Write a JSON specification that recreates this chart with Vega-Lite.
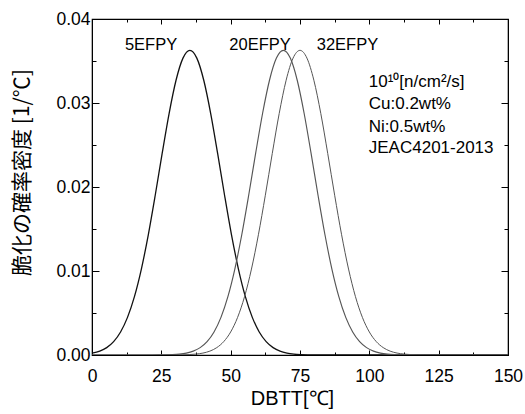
{
  "$schema": "https://vega.github.io/schema/vega-lite/v6.json",
  "width": 416,
  "height": 336,
  "autosize": {"type": "none"},
  "padding": {"left": 92, "top": 19, "right": 17, "bottom": 59},
  "background": "white",
  "config": {
    "view": {"stroke": "black", "strokeWidth": 1.2},
    "axis": {"grid": false, "domainColor": "black", "tickColor": "black", "labelColor": "black", "titleColor": "black", "labelFont": "Liberation Sans", "labelFontSize": 17.5, "titleFontWeight": "normal"}
  },
  "datasets": {
    "curves": [
      {"s":"5EFPY","x":0,"y":0.000211},{"s":"5EFPY","x":2.8,"y":0.000461},{"s":"5EFPY","x":5.3,"y":0.000880},{"s":"5EFPY","x":7.8,"y":0.001594},{"s":"5EFPY","x":10.3,"y":0.002741},{"s":"5EFPY","x":12.8,"y":0.004478},{"s":"5EFPY","x":15.3,"y":0.006945},{"s":"5EFPY","x":17.8,"y":0.010231},{"s":"5EFPY","x":20.3,"y":0.014314},{"s":"5EFPY","x":22.8,"y":0.019018},{"s":"5EFPY","x":25.3,"y":0.023993},{"s":"5EFPY","x":27.8,"y":0.028748},{"s":"5EFPY","x":30.3,"y":0.032710},{"s":"5EFPY","x":32.8,"y":0.035345},{"s":"5EFPY","x":35.3,"y":0.03627},{"s":"5EFPY","x":37.8,"y":0.035345},{"s":"5EFPY","x":40.3,"y":0.032710},{"s":"5EFPY","x":42.8,"y":0.028748},{"s":"5EFPY","x":45.3,"y":0.023993},{"s":"5EFPY","x":47.8,"y":0.019018},{"s":"5EFPY","x":50.3,"y":0.014314},{"s":"5EFPY","x":52.8,"y":0.010231},{"s":"5EFPY","x":55.3,"y":0.006945},{"s":"5EFPY","x":57.8,"y":0.004478},{"s":"5EFPY","x":60.3,"y":0.002741},{"s":"5EFPY","x":62.8,"y":0.001594},{"s":"5EFPY","x":65.3,"y":0.000880},{"s":"5EFPY","x":67.8,"y":0.000461},{"s":"5EFPY","x":70.3,"y":0.000230},{"s":"5EFPY","x":72.8,"y":0.000109},{"s":"5EFPY","x":75.3,"y":0.0000488},{"s":"5EFPY","x":77.8,"y":0.0000208},{"s":"5EFPY","x":80.3,"y":0.0000084},{"s":"5EFPY","x":82.8,"y":0.0000032},{"s":"5EFPY","x":85.3,"y":0.0000012},{"s":"5EFPY","x":150,"y":0},
      {"s":"20EFPY","x":0,"y":0},{"s":"20EFPY","x":19,"y":0.0000012},{"s":"20EFPY","x":21.5,"y":0.0000032},{"s":"20EFPY","x":24,"y":0.0000084},{"s":"20EFPY","x":26.5,"y":0.0000208},{"s":"20EFPY","x":29,"y":0.0000488},{"s":"20EFPY","x":31.5,"y":0.000109},{"s":"20EFPY","x":34,"y":0.000230},{"s":"20EFPY","x":36.5,"y":0.000461},{"s":"20EFPY","x":39,"y":0.000880},{"s":"20EFPY","x":41.5,"y":0.001594},{"s":"20EFPY","x":44,"y":0.002741},{"s":"20EFPY","x":46.5,"y":0.004478},{"s":"20EFPY","x":49,"y":0.006945},{"s":"20EFPY","x":51.5,"y":0.010231},{"s":"20EFPY","x":54,"y":0.014314},{"s":"20EFPY","x":56.5,"y":0.019018},{"s":"20EFPY","x":59,"y":0.023993},{"s":"20EFPY","x":61.5,"y":0.028748},{"s":"20EFPY","x":64,"y":0.032710},{"s":"20EFPY","x":66.5,"y":0.035345},{"s":"20EFPY","x":69,"y":0.03627},{"s":"20EFPY","x":71.5,"y":0.035345},{"s":"20EFPY","x":74,"y":0.032710},{"s":"20EFPY","x":76.5,"y":0.028748},{"s":"20EFPY","x":79,"y":0.023993},{"s":"20EFPY","x":81.5,"y":0.019018},{"s":"20EFPY","x":84,"y":0.014314},{"s":"20EFPY","x":86.5,"y":0.010231},{"s":"20EFPY","x":89,"y":0.006945},{"s":"20EFPY","x":91.5,"y":0.004478},{"s":"20EFPY","x":94,"y":0.002741},{"s":"20EFPY","x":96.5,"y":0.001594},{"s":"20EFPY","x":99,"y":0.000880},{"s":"20EFPY","x":101.5,"y":0.000461},{"s":"20EFPY","x":104,"y":0.000230},{"s":"20EFPY","x":106.5,"y":0.000109},{"s":"20EFPY","x":109,"y":0.0000488},{"s":"20EFPY","x":111.5,"y":0.0000208},{"s":"20EFPY","x":114,"y":0.0000084},{"s":"20EFPY","x":116.5,"y":0.0000032},{"s":"20EFPY","x":119,"y":0.0000012},{"s":"20EFPY","x":150,"y":0},
      {"s":"32EFPY","x":0,"y":0},{"s":"32EFPY","x":25,"y":0.0000012},{"s":"32EFPY","x":27.5,"y":0.0000032},{"s":"32EFPY","x":30,"y":0.0000084},{"s":"32EFPY","x":32.5,"y":0.0000208},{"s":"32EFPY","x":35,"y":0.0000488},{"s":"32EFPY","x":37.5,"y":0.000109},{"s":"32EFPY","x":40,"y":0.000230},{"s":"32EFPY","x":42.5,"y":0.000461},{"s":"32EFPY","x":45,"y":0.000880},{"s":"32EFPY","x":47.5,"y":0.001594},{"s":"32EFPY","x":50,"y":0.002741},{"s":"32EFPY","x":52.5,"y":0.004478},{"s":"32EFPY","x":55,"y":0.006945},{"s":"32EFPY","x":57.5,"y":0.010231},{"s":"32EFPY","x":60,"y":0.014314},{"s":"32EFPY","x":62.5,"y":0.019018},{"s":"32EFPY","x":65,"y":0.023993},{"s":"32EFPY","x":67.5,"y":0.028748},{"s":"32EFPY","x":70,"y":0.032710},{"s":"32EFPY","x":72.5,"y":0.035345},{"s":"32EFPY","x":75,"y":0.03627},{"s":"32EFPY","x":77.5,"y":0.035345},{"s":"32EFPY","x":80,"y":0.032710},{"s":"32EFPY","x":82.5,"y":0.028748},{"s":"32EFPY","x":85,"y":0.023993},{"s":"32EFPY","x":87.5,"y":0.019018},{"s":"32EFPY","x":90,"y":0.014314},{"s":"32EFPY","x":92.5,"y":0.010231},{"s":"32EFPY","x":95,"y":0.006945},{"s":"32EFPY","x":97.5,"y":0.004478},{"s":"32EFPY","x":100,"y":0.002741},{"s":"32EFPY","x":102.5,"y":0.001594},{"s":"32EFPY","x":105,"y":0.000880},{"s":"32EFPY","x":107.5,"y":0.000461},{"s":"32EFPY","x":110,"y":0.000230},{"s":"32EFPY","x":112.5,"y":0.000109},{"s":"32EFPY","x":115,"y":0.0000488},{"s":"32EFPY","x":117.5,"y":0.0000208},{"s":"32EFPY","x":120,"y":0.0000084},{"s":"32EFPY","x":122.5,"y":0.0000032},{"s":"32EFPY","x":125,"y":0.0000012},{"s":"32EFPY","x":150,"y":0}
    ],
    "labels": [
      {"t":"5EFPY","x":21.3,"y":0.0369},
      {"t":"20EFPY","x":60.6,"y":0.0369},
      {"t":"32EFPY","x":92.1,"y":0.0369}
    ],
    "notes": [
      {"t":"10¹⁰[n/cm²/s]","x":99.8,"y":0.0325},
      {"t":"Cu:0.2wt%","x":99.8,"y":0.0299},
      {"t":"Ni:0.5wt%","x":99.8,"y":0.0272},
      {"t":"JEAC4201-2013","x":99.8,"y":0.0247}
    ]
  },
  "layer": [
    {
      "data": {"name": "curves"},
      "mark": {"type": "line", "interpolate": "monotone", "clip": true},
      "encoding": {
        "x": {"field": "x", "type": "quantitative", "scale": {"domain": [0, 150], "nice": false},
          "axis": {"orient": "bottom", "title": "DBTT[℃]", "titleFont": "Liberation Sans", "titleFontSize": 20,
            "titleX": 200, "titleY": 43, "titleAlign": "center", "titleBaseline": "middle",
            "values": [0,12.5,25,37.5,50,62.5,75,87.5,100,112.5,125,137.5,150],
            "labelExpr": "datum.value % 25 === 0 ? datum.label : ''",
            "tickSize": {"condition": {"test": "datum.value % 25 === 0", "value": -5}, "value": -3},
            "labelPadding": 17, "labelFlush": false}},
        "y": {"field": "y", "type": "quantitative", "scale": {"domain": [0, 0.04], "nice": false},
          "axis": {"orient": "left", "title": "脆化の確率密度 [1/℃]", "titleFont": "Noto Sans CJK JP", "titleFontSize": 21,
            "titleX": -70, "titleY": 153, "titleAngle": -90, "titleAlign": "center", "titleBaseline": "middle",
            "values": [0,0.005,0.01,0.015,0.02,0.025,0.03,0.035,0.04],
            "format": ".2f",
            "labelExpr": "round(datum.value*1000) % 10 === 0 ? datum.label : ''",
            "tickSize": {"condition": {"test": "round(datum.value*1000) % 10 === 0", "value": -7}, "value": -4},
            "labelPadding": 9}},
        "color": {"field": "s", "type": "nominal", "legend": null,
          "scale": {"domain": ["5EFPY","20EFPY","32EFPY"], "range": ["#111111","#555555","#555555"]}},
        "strokeWidth": {"field": "s", "type": "nominal", "legend": null,
          "scale": {"domain": ["5EFPY","20EFPY","32EFPY"], "range": [1.3, 1.0, 1.0]}},
        "detail": {"field": "s"}
      }
    },
    {
      "data": {"name": "curves"},
      "mark": {"type": "line", "opacity": 0},
      "encoding": {
        "x": {"field": "x", "type": "quantitative",
          "axis": {"orient": "top", "title": null, "labels": false,
            "values": [0,12.5,25,37.5,50,62.5,75,87.5,100,112.5,125,137.5,150],
            "tickSize": {"condition": {"test": "datum.value % 25 === 0", "value": -5}, "value": -3}}},
        "y": {"field": "y", "type": "quantitative",
          "axis": {"orient": "right", "title": null, "labels": false,
            "values": [0,0.005,0.01,0.015,0.02,0.025,0.03,0.035,0.04],
            "tickSize": {"condition": {"test": "round(datum.value*1000) % 10 === 0", "value": -7}, "value": -4}}},
        "detail": {"field": "s"}
      }
    },
    {
      "data": {"name": "labels"},
      "mark": {"type": "text", "font": "Liberation Sans", "fontSize": 16.5, "align": "center", "baseline": "middle", "color": "black"},
      "encoding": {
        "x": {"field": "x", "type": "quantitative", "axis": null},
        "y": {"field": "y", "type": "quantitative", "axis": null},
        "text": {"field": "t"}
      }
    },
    {
      "data": {"name": "notes"},
      "mark": {"type": "text", "font": "Liberation Sans", "fontSize": 17, "align": "left", "baseline": "middle", "color": "black"},
      "encoding": {
        "x": {"field": "x", "type": "quantitative", "axis": null},
        "y": {"field": "y", "type": "quantitative", "axis": null},
        "text": {"field": "t"}
      }
    }
  ],
  "resolve": {"axis": {"x": "independent", "y": "independent"}}
}
